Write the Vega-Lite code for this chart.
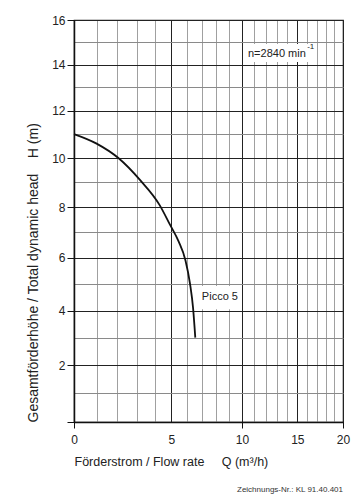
{
  "$schema": "https://vega.github.io/schema/vega-lite/v6.json",
  "width": 269,
  "height": 402,
  "autosize": "none",
  "padding": {"left": 74, "top": 20, "right": 11, "bottom": 78},
  "background": "white",
  "config": {
    "font": "Liberation Sans",
    "view": {"stroke": "#222", "strokeWidth": 1.2},
    "axis": {"labelFont": "Liberation Sans", "titleFont": "Liberation Sans", "labelColor": "#222", "titleColor": "#222", "titleFontWeight": "normal"}
  },
  "title": {"text": "Zeichnungs-Nr.: KL 91.40.401", "orient": "bottom", "anchor": "end", "frame": "group", "fontSize": 8, "fontWeight": "normal", "color": "#333", "offset": 18, "font": "Liberation Sans"},
  "datasets": {
    "curve": [
      {"q": 0, "h": 11.0},
      {"q": 1, "h": 10.6},
      {"q": 2.05, "h": 10.0},
      {"q": 3.18, "h": 9.1},
      {"q": 4.3, "h": 8.08},
      {"q": 4.92, "h": 7.3},
      {"q": 5.45, "h": 6.65},
      {"q": 5.9, "h": 5.9},
      {"q": 6.2, "h": 5.0},
      {"q": 6.4, "h": 4.1},
      {"q": 6.55, "h": 3.0}
    ],
    "boxes": [
      {"q0": 6.7, "q1": 9.8, "h0": 4.05, "h1": 4.92},
      {"q0": 10.25, "q1": 16.7, "h0": 14.11, "h1": 14.92}
    ],
    "labels": [
      {"text": "Picco 5", "q": 7.0, "h": 4.5},
      {"text": "n=2840 min", "q": 10.5, "h": 14.47}
    ],
    "sup": [
      {"text": "-1", "q": 16.0, "h": 14.8}
    ]
  },
  "layer": [
    {
      "data": {"name": "boxes"},
      "mark": {"type": "rect", "fill": "white"},
      "encoding": {
        "x": {"field": "q0", "type": "quantitative", "scale": {"type": "symlog", "constant": 11, "domain": [0, 20], "nice": false},
          "axis": {
            "values": [0,1,2,3,4,5,6,7,8,9,10,11,12,13,14,15,16,17,18,19,20],
            "tickCount": 100, "format": "d",
            "labelExpr": "datum.value % 5 === 0 ? datum.label : ''",
            "labelFlush": false, "labelOverlap": false,
            "labelFontSize": 12, "labelPadding": 6,
            "tickSize": 6,
            "tickColor": {"condition": {"test": "datum.value % 10 === 0", "value": "#111"}, "value": "transparent"},
            "gridColor": {"condition": {"test": "datum.value % 5 === 0", "value": "#222"}, "value": "#a0a0a0"},
            "gridOpacity": 1, "gridWidth": 1,
            "domainColor": "#111", "domainWidth": 1.5,
            "title": "Förderstrom / Flow rate\u00a0\u00a0\u00a0\u00a0 Q (m³/h)",
            "titleAnchor": "start", "titleFontSize": 12.5, "titlePadding": 10
          }},
        "x2": {"field": "q1"},
        "y": {"field": "h0", "type": "quantitative", "scale": {"type": "symlog", "constant": 50, "domain": [0, 16], "nice": false},
          "axis": {
            "values": [0,1,2,3,4,5,6,7,8,9,10,11,12,13,14,15,16],
            "tickCount": 100, "format": "d",
            "labelExpr": "datum.value % 2 === 0 && datum.value > 0 ? datum.label : ''",
            "labelOverlap": false, "labelFontSize": 12, "labelPadding": 2,
            "tickSize": 7,
            "tickColor": {"condition": {"test": "datum.value % 2 === 0", "value": "#111"}, "value": "transparent"},
            "gridColor": {"condition": {"test": "datum.value % 2 === 0", "value": "#222"}, "value": "#8a8a8a"},
            "gridOpacity": 1, "gridWidth": 1,
            "domainColor": "#111", "domainWidth": 1.5,
            "title": "Gesamtförderhöhe / Total dynamic head\u00a0\u00a0\u00a0 H (m)",
            "titleAnchor": "start", "titleFontSize": 14, "titlePadding": 11
          }},
        "y2": {"field": "h1"}
      }
    },
    {
      "data": {"name": "curve"},
      "mark": {"type": "line", "color": "#111", "strokeWidth": 1.8, "interpolate": "monotone"},
      "encoding": {
        "x": {"field": "q", "type": "quantitative"},
        "y": {"field": "h", "type": "quantitative"}
      }
    },
    {
      "data": {"name": "labels"},
      "mark": {"type": "text", "align": "left", "baseline": "middle", "fontSize": 11, "color": "#222", "font": "Liberation Sans"},
      "encoding": {
        "x": {"field": "q", "type": "quantitative"},
        "y": {"field": "h", "type": "quantitative"},
        "text": {"field": "text"}
      }
    },
    {
      "data": {"name": "sup"},
      "mark": {"type": "text", "align": "left", "baseline": "middle", "fontSize": 8, "color": "#222", "font": "Liberation Sans"},
      "encoding": {
        "x": {"field": "q", "type": "quantitative"},
        "y": {"field": "h", "type": "quantitative"},
        "text": {"field": "text"}
      }
    }
  ]
}
